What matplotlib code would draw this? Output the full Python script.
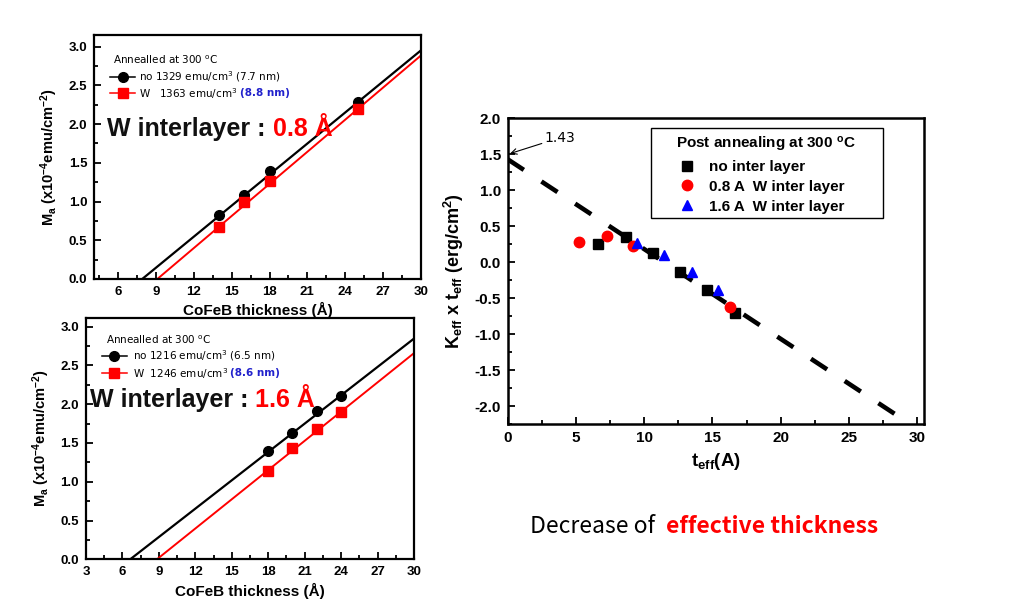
import matplotlib
matplotlib.use("Agg")
import matplotlib.pyplot as plt
import numpy as np
from matplotlib.lines import Line2D
from matplotlib.patches import Rectangle
from matplotlib.ticker import MultipleLocator

plt.rcParams['font.family'] = ['Liberation Sans', 'DejaVu Sans']
plt.rcParams['mathtext.default'] = 'regular'

# ---- Panel A (0.8 A W interlayer) ----
a_thk_no = [14, 16, 18, 25]
a_ma_no = [0.83, 1.09, 1.39, 2.29]
a_thk_w = [14, 16, 18, 25]
a_ma_w = [0.67, 0.99, 1.27, 2.19]
a_fit_x0 = [7.9, 9.1]          # x-intercepts (no, W)
a_fit_slope = [0.1335, 0.138]  # slopes (no, W)

# ---- Panel B (1.6 A W interlayer) ----
b_thk_no = [18, 20, 22, 24]
b_ma_no = [1.39, 1.63, 1.91, 2.11]
b_thk_w = [18, 20, 22, 24]
b_ma_w = [1.14, 1.44, 1.68, 1.90]
b_fit_x0 = [6.64, 8.84]
b_fit_slope = [0.1218, 0.1256]

# ---- Panel C (Keff x teff) ----
c_t_no = [6.64, 8.65, 10.63, 12.63, 14.63, 16.66]
c_k_no = [0.26, 0.345, 0.13, -0.13, -0.39, -0.70]
c_t_08 = [5.25, 7.26, 9.21, 16.25]
c_k_08 = [0.28, 0.37, 0.23, -0.62]
c_t_16 = [9.5, 11.46, 13.49, 15.44]
c_k_16 = [0.27, 0.10, -0.14, -0.38]
c_fit_intercept = 1.43
c_fit_slope = -0.1247
c_fit_xmax = 29.6

fig = plt.figure(figsize=(10.1, 6.16), dpi=100)


def style_axes(ax, lw=1.6, size=9.5):
    for s in ax.spines.values():
        s.set_linewidth(lw)
    ax.tick_params(which='both', direction='in', top=False, right=False, width=1.3)
    ax.tick_params(which='major', length=5, labelsize=size, pad=5)
    ax.tick_params(which='minor', length=3)
    for lab in ax.get_xticklabels() + ax.get_yticklabels():
        lab.set_fontweight('bold')


def left_panel(ax, xlim, ylim, thk_no, ma_no, thk_w, ma_w, x0s, slopes,
               lbl_no, lbl_w, blue, big_val, big_pos, leg_pos):
    for x0, s, c, lw in zip(x0s, slopes, ['black', 'red'], [1.6, 1.4]):
        xs = np.array([x0, 30.0])
        ax.plot(xs, s * (xs - x0), color=c, lw=lw, zorder=2)
    ax.plot(thk_no, ma_no, 'o', color='black', ms=7, zorder=3)
    ax.plot(thk_w, ma_w, 's', color='red', ms=7, zorder=3)
    ax.set_xlim(*xlim)
    ax.set_ylim(*ylim)
    ax.xaxis.set_major_locator(MultipleLocator(3))
    ax.xaxis.set_minor_locator(MultipleLocator(1.5))
    ax.yaxis.set_major_locator(MultipleLocator(0.5))
    ax.yaxis.set_minor_locator(MultipleLocator(0.25))
    ax.yaxis.set_major_formatter(matplotlib.ticker.FormatStrFormatter('%.1f'))
    style_axes(ax)
    ax.set_xlabel('CoFeB thickness (Å)', fontsize=11, fontweight='bold', labelpad=3)
    ax.set_ylabel('M$_a$ (x10$^{-4}$emu/cm$^{-2}$)', fontsize=10.5, fontweight='bold', labelpad=6)
    tx, ty1, ty2, lx0, lx1, mx, txt_x = leg_pos
    ax.text(tx, ty1 + 0.068, 'Annealled at 300 $^{o}$C', transform=ax.transAxes,
            fontsize=7.5, va='center', ha='left', family=['DejaVu Sans'])
    ax.add_line(Line2D([lx0, lx1], [ty1, ty1], color='black', lw=1.1, transform=ax.transAxes))
    ax.add_line(Line2D([mx], [ty1], color='black', marker='o', ms=7, transform=ax.transAxes))
    ax.add_line(Line2D([lx0, lx1], [ty2, ty2], color='red', lw=1.1, transform=ax.transAxes))
    ax.add_line(Line2D([mx], [ty2], color='red', marker='s', ms=7, transform=ax.transAxes))
    ax.text(txt_x, ty1, lbl_no, transform=ax.transAxes, fontsize=7.5, va='center',
            family=['DejaVu Sans'])
    t = ax.text(txt_x, ty2, lbl_w, transform=ax.transAxes, fontsize=7.5, va='center',
                family=['DejaVu Sans'])
    fig.canvas.draw()
    bb = t.get_window_extent().transformed(ax.transAxes.inverted())
    ax.text(bb.x1 + 0.008, ty2, blue, transform=ax.transAxes, fontsize=7.5, va='center',
            color='#2222cc', fontweight='bold', family=['DejaVu Sans'])
    bx, by = big_pos
    t1 = ax.text(bx, by, 'W interlayer : ', transform=ax.transAxes, fontsize=18,
                 fontweight='bold', va='center', ha='left', color='#111111')
    fig.canvas.draw()
    bb = t1.get_window_extent().transformed(ax.transAxes.inverted())
    ax.text(bb.x1, by, big_val, transform=ax.transAxes, fontsize=18,
            fontweight='bold', va='center', ha='left', color='red')


axA = fig.add_axes([0.0934, 0.5471, 0.3232, 0.396])
left_panel(axA, (4.1, 30), (0, 3.15), a_thk_no, a_ma_no, a_thk_w, a_ma_w,
           a_fit_x0, a_fit_slope,
           'no 1329 emu/cm$^3$ (7.7 nm)', 'W   1363 emu/cm$^3$', '(8.8 nm)',
           '0.8 Å', (0.04, 0.615),
           (0.057, 0.829, 0.761, 0.048, 0.125, 0.088, 0.137))

axB = fig.add_axes([0.0851, 0.0920, 0.3248, 0.3917])
left_panel(axB, (3, 30), (0, 3.11), b_thk_no, b_ma_no, b_thk_w, b_ma_w,
           b_fit_x0, b_fit_slope,
           'no 1216 emu/cm$^3$ (6.5 nm)', 'W  1246 emu/cm$^3$', '(8.6 nm)',
           '1.6 Å', (0.012, 0.66),
           (0.06, 0.843, 0.771, 0.048, 0.124, 0.086, 0.142))

# ---- Right panel ----
axC = fig.add_axes([0.5027, 0.3112, 0.4122, 0.4968])
xs = np.array([0.0, c_fit_xmax])
axC.plot(xs, c_fit_intercept + c_fit_slope * xs, color='black', lw=3.3,
         dashes=(4.2, 4.6), dash_capstyle='butt', zorder=2)
axC.plot(c_t_no, c_k_no, 's', color='black', ms=7, zorder=3, label='no inter layer')
axC.plot(c_t_08, c_k_08, 'o', color='red', ms=7.5, zorder=3, label='0.8 A  W inter layer')
axC.plot(c_t_16, c_k_16, '^', color='blue', ms=7.5, zorder=3, label='1.6 A  W inter layer')
axC.set_xlim(0, 30.5)
axC.set_ylim(-2.25, 2.0)
axC.xaxis.set_major_locator(MultipleLocator(5))
axC.xaxis.set_minor_locator(MultipleLocator(2.5))
axC.yaxis.set_major_locator(MultipleLocator(0.5))
axC.yaxis.set_minor_locator(MultipleLocator(0.25))
axC.yaxis.set_major_formatter(matplotlib.ticker.FormatStrFormatter('%.1f'))
style_axes(axC, lw=1.8, size=11)
axC.set_xlabel('t$_{eff}$(A)', fontsize=13.5, fontweight='bold', labelpad=4)
axC.set_ylabel('K$_{eff}$ x t$_{eff}$ (erg/cm$^2$)', fontsize=13, fontweight='bold', labelpad=6)
axC.add_patch(Rectangle((0.343, 0.675), 0.902 - 0.343, 0.967 - 0.675,
                        transform=axC.transAxes, facecolor='white', edgecolor='black',
                        lw=1.0, zorder=4))
leg = axC.legend(loc='upper left', bbox_to_anchor=(0.405, 0.945),
                 title='Post annealing at 300 $^{o}$C', fontsize=11,
                 title_fontproperties={'weight': 'bold', 'size': 11},
                 frameon=False, handlelength=1.4, handletextpad=0.75, borderpad=0,
                 labelspacing=0.38, borderaxespad=0)
leg.set_zorder(5)
leg._legend_box.align = 'left'
for t in leg.get_texts():
    t.set_fontweight('bold')
axC.annotate('1.43', xy=(0.17, 1.51), xytext=(2.7, 1.73), fontsize=10,
             va='center', ha='left', family=['DejaVu Sans'],
             arrowprops=dict(arrowstyle='->', color='black', lw=0.8,
                             shrinkA=0, shrinkB=0))

fig.text(655 / 1010, 1 - 533 / 616, 'Decrease of', ha='right', va='baseline',
         fontsize=16.5, family=['Noto Sans CJK KR', 'DejaVu Sans'])
fig.text(666 / 1010, 1 - 533 / 616, 'effective thickness', ha='left', va='baseline',
         fontsize=16.5, fontweight='bold', color='red',
         family=['Noto Sans CJK KR', 'DejaVu Sans'])

fig.savefig('out.png', dpi=100)
